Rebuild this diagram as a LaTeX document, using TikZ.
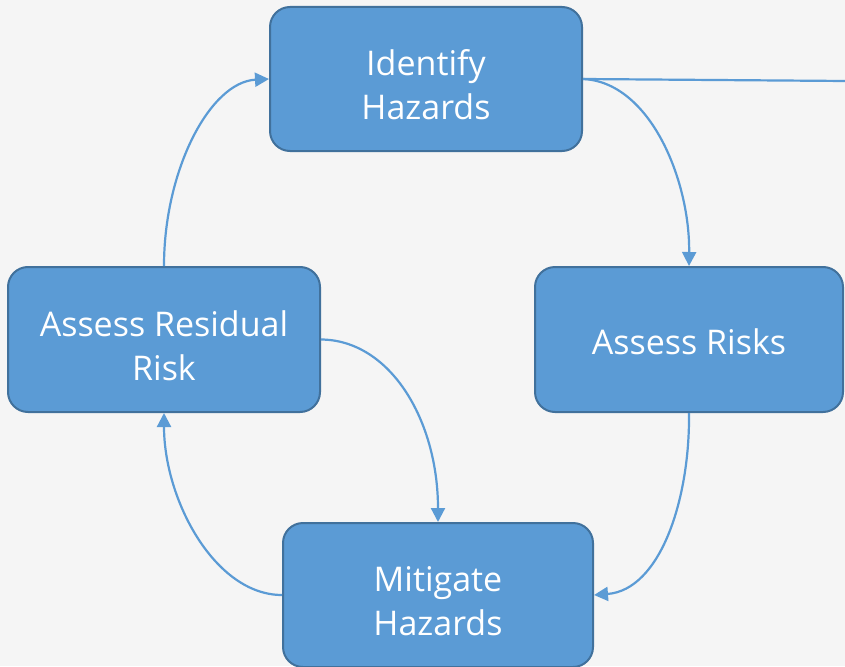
\documentclass[tikz,border=0pt]{standalone}
\usepackage{fontspec}
\setmainfont{Open Sans}
\usetikzlibrary{arrows.meta}
\definecolor{bg}{HTML}{F5F5F5}
\definecolor{boxfill}{HTML}{5B9BD5}
\definecolor{boxline}{HTML}{41719C}
\definecolor{conn}{HTML}{5B9BD5}
\newcommand{\boxlbl}[2][-10pt]{\raisebox{#1}[\height][\depth]{\begin{tabular}{@{}c@{}}#2\end{tabular}}}
\tikzset{
  stepbox/.style={draw=boxline, line width=2pt, fill=boxfill, rounded corners=20pt,
    minimum height=144pt, text=white, align=center,
    font=\fontsize{34}{44}\selectfont, inner sep=0pt},
  conn/.style={draw=conn, line width=2.2pt, -{Triangle[length=14pt,width=14pt]}},
  plainconn/.style={draw=conn, line width=2.2pt}
}
\begin{document}
\begin{tikzpicture}[x=1pt,y=-1pt]
\fill[bg] (0,0) rectangle (845,666);
\useasboundingbox (0,0) rectangle (845,666);
\node[stepbox, minimum width=312pt] (ih) at (426,79) {\boxlbl{Identify\\Hazards}};
\node[stepbox, minimum width=308pt, minimum height=145pt] (ar) at (689,339.5) {\boxlbl[-6pt]{Assess Risks}};
\node[stepbox, minimum width=312pt, minimum height=145pt] (rr) at (164,339.5) {\boxlbl{Assess Residual\\Risk}};
\node[stepbox, minimum width=310pt] (mh) at (438,595) {\boxlbl{Mitigate\\Hazards}};
\coordinate (edge) at (846,81);
\draw[plainconn] (ih.east) -- (edge);
\draw[conn] (ih.east) .. controls (650,82) and (690,180) .. (ar.north);
\draw[conn] (ar.south) .. controls (690,500) and (660,590) .. (mh.east);
\draw[conn] (mh.west) .. controls (215,595) and (164,500) .. (rr.south);
\draw[conn] (rr.north) .. controls (164,170) and (210,82) .. (ih.west);
\draw[conn] (rr.east) .. controls (390,340) and (438,420) .. (mh.north);
\end{tikzpicture}
\end{document}
